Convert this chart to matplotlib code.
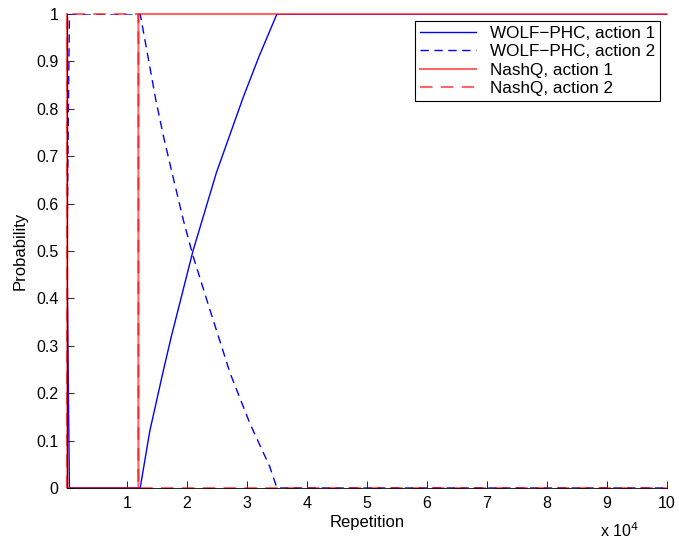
import numpy as np
import matplotlib
matplotlib.use('Agg')
import matplotlib.pyplot as plt

plt.rcParams['font.family'] = ['Liberation Sans', 'DejaVu Sans']
plt.rcParams['font.size'] = 11

# WOLF-PHC policy (repetitions, probability)
wolf_a1_x = [0, 300, 400, 12200, 13800, 16100, 17400, 21000, 24900, 29400, 32000, 35000, 100000]
wolf_a1_y = [0.5, 0.12, 0, 0, 0.12, 0.25, 0.32, 0.5, 0.665, 0.825, 0.91, 1, 1]

wolf_a2_x = [0, 300, 400, 12200, 13600, 14800, 16100, 17400, 19400, 21000,
             23300, 27200, 30500, 33800, 35000, 100000]
wolf_a2_y = [0.5, 0.88, 1, 1, 0.903, 0.819, 0.741, 0.671, 0.565, 0.49,
             0.397, 0.242, 0.136, 0.045, 0, 0]

# NashQ policy
nash_x = [0, 50, 11900, 11900, 100000]
nash_a1_y = [1, 0, 0, 1, 1]
nash_a2_y = [0, 1, 1, 0, 0]

xticks = [1, 2, 3, 4, 5, 6, 7, 8, 9, 10]
yticks = [0, 0.1, 0.2, 0.3, 0.4, 0.5, 0.6, 0.7, 0.8, 0.9, 1]


def make_plot():
    fig = plt.figure(figsize=(6.79, 5.45), dpi=100)
    ax = fig.add_axes([0.0987, 0.1046, 0.8833, 0.8697])

    ax.plot(wolf_a1_x, wolf_a1_y, color='#0000ff', lw=1, label='WOLF\u2212PHC, action 1')
    ax.plot(wolf_a2_x, wolf_a2_y, color='#0000ff', lw=1, ls=(0, (6, 4)),
            label='WOLF\u2212PHC, action 2')
    ax.plot(nash_x, nash_a1_y, color='#ff0000', alpha=0.6, lw=1.5, clip_on=False,
            label='NashQ, action 1')
    ax.plot(nash_x, nash_a2_y, color='#ff0000', alpha=0.6, lw=1.5, ls=(0, (6, 4)),
            clip_on=False, label='NashQ, action 2')

    ax.set_xlim(0, 100000)
    ax.set_ylim(0, 1)
    ax.set_xticks([t * 1e4 for t in xticks])
    ax.set_xticklabels([str(t) for t in xticks])
    ax.set_yticks(yticks)
    ax.set_yticklabels(['0', '0.1', '0.2', '0.3', '0.4', '0.5', '0.6', '0.7', '0.8', '0.9', '1'])
    ax.tick_params(direction='in', length=5, width=0.6, labelsize=11.5, pad=6)

    ax.spines['top'].set_visible(False)
    ax.spines['right'].set_visible(False)
    ax.spines['left'].set_linewidth(0.6)
    ax.spines['bottom'].set_linewidth(0.6)

    ax.set_xlabel('Repetition', fontsize=12, labelpad=3)
    ax.set_ylabel('Probability', fontsize=12, labelpad=6)
    fig.text(0.883, 0.015, 'x 10$^{4}$', fontsize=11.5)

    leg = ax.legend(loc='upper right', fancybox=False, edgecolor='black',
                    framealpha=1, handlelength=3.3, borderaxespad=0.4,
                    fontsize=12.3, labelspacing=0.2, borderpad=0.3)
    leg.get_frame().set_linewidth(0.8)

    fig.savefig('out.png', dpi=100)


if __name__ == '__main__':
    make_plot()
